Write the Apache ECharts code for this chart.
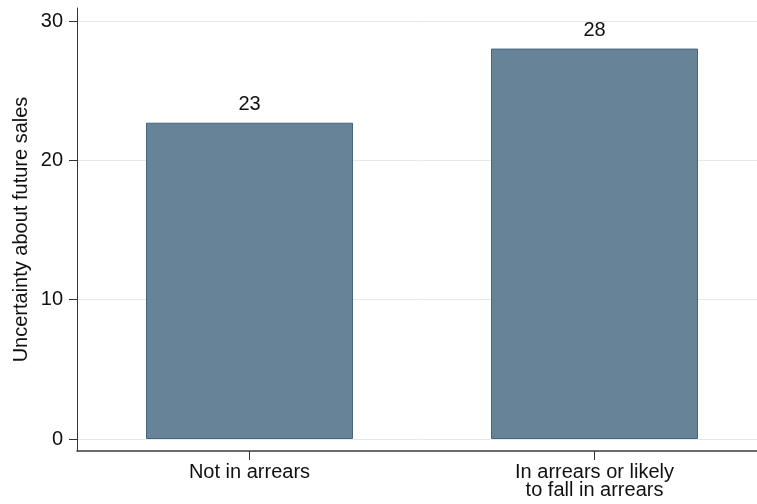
<!DOCTYPE html>
<html>
<head>
<meta charset="utf-8">
<script src="https://cdn.jsdelivr.net/npm/echarts@6/dist/echarts.min.js"></script>
<style>
html,body{margin:0;padding:0;background:#fff;}
#chart{width:757px;height:504px;}
</style>
</head>
<body>
<div id="chart"></div>
<script>
const categories = ['Not in arrears', 'In arrears or likely\nto fall in arrears'];
const values = [22.7, 28.02];
const yTicks = [0, 10, 20, 30];
const yTitle = 'Uncertainty about future sales';

const FONT = '"Liberation Sans", Arial, sans-serif';
const chart = echarts.init(document.getElementById('chart'), null, {renderer: 'canvas'});
chart.setOption({
  animation: false,
  backgroundColor: '#ffffff',
  textStyle: {fontFamily: FONT},
  grid: [
    {left: 77, right: -10, top: 21, bottom: 65, outerBoundsMode: 'none', containLabel: false},
    {left: 77, right: -10, top: 8, bottom: 53, outerBoundsMode: 'none', containLabel: false}
  ],
  xAxis: [
    {
      type: 'category', gridIndex: 0, data: categories, offset: 12,
      axisLine: {show: true, onZero: false, lineStyle: {color: '#3a3a3a', width: 1.5}},
      axisTick: {show: true, alignWithLabel: true, length: 9, lineStyle: {color: '#333', width: 1}},
      axisLabel: {color: '#111', fontSize: 20, fontFamily: FONT, margin: 12, lineHeight: 18},
      splitLine: {show: false}
    },
    {type: 'category', gridIndex: 1, data: categories, show: false}
  ],
  yAxis: [
    {
      type: 'value', gridIndex: 0, min: yTicks[0], max: yTicks[yTicks.length - 1], interval: 10,
      axisLine: {show: false},
      axisTick: {show: true, length: 8, lineStyle: {color: '#333', width: 1}},
      axisLabel: {color: '#111', fontSize: 20, fontFamily: FONT, margin: 14},
      splitLine: {show: true, lineStyle: {color: '#e8e8e8', width: 1}}
    },
    {
      type: 'value', gridIndex: 1, min: 0, max: 1,
      name: yTitle, nameLocation: 'middle', nameGap: 46,
      nameTextStyle: {color: '#111', fontSize: 20, fontFamily: FONT},
      axisLine: {show: true, lineStyle: {color: '#333', width: 1}},
      axisTick: {show: false}, axisLabel: {show: false}, splitLine: {show: false}
    }
  ],
  series: [{
    type: 'bar', xAxisIndex: 0, yAxisIndex: 0,
    data: values, barWidth: '60%',
    itemStyle: {color: '#668397', borderColor: '#46647d', borderWidth: 1},
    label: {show: true, position: 'top', distance: 8, color: '#111', fontSize: 20, fontFamily: FONT,
      formatter: p => String(Math.round(p.value))}
  }]
});
</script>
</body>
</html>
